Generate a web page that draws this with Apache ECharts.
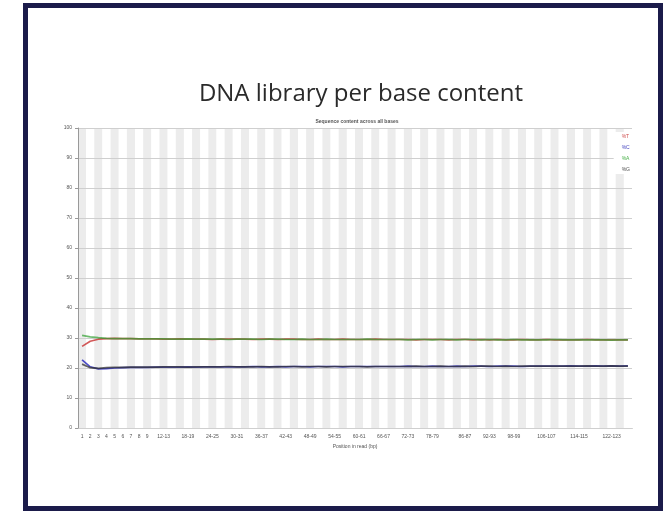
<!DOCTYPE html>
<html>
<head>
<meta charset="utf-8">
<script src="https://cdn.jsdelivr.net/npm/echarts@6/dist/echarts.min.js"></script>
<style>
html,body{margin:0;padding:0;background:#fff}
#view-chart{width:669px;height:512px}
</style>
</head>
<body>
<div id="view-chart"></div>
<script>
// position groups as FastQC prints them
var positions = ["1","2","3","4","5","6","7","8","9",
	"10-11","12-13","14-15","16-17","18-19","20-21","22-23","24-25","26-27","28-29",
	"30-31","32-33","34-35","36-37","38-39","40-41","42-43","44-45","46-47","48-49",
	"50-51","52-53","54-55","56-57","58-59","60-61","62-63","64-65","66-67","68-69",
	"70-71","72-73","74-75","76-77","78-79","80-81","82-83","84-85","86-87","88-89",
	"90-91","92-93","94-95","96-97","98-99","100-101","102-103","104-105","106-107","108-109",
	"110-111","112-113","114-115","116-117","118-119","120-121","122-123","124-125","126-127"];
var shownTicks = ["1","2","3","4","5","6","7","8","9","12-13","18-19","24-25","30-31","36-37",
	"42-43","48-49","54-55","60-61","66-67","72-73","78-79","86-87","92-93","98-99",
	"106-107","114-115","122-123"];
var yTicks = [0, 10, 20, 30, 40, 50, 60, 70, 80, 90, 100];

var pctT = [27.2,28.9,29.6,29.8,29.9,29.8,29.8,29.7,29.7,
	29.7,29.6,29.6,29.7,29.6,29.6,29.6,29.5,29.6,29.6,
	29.6,29.6,29.5,29.6,29.6,29.5,29.6,29.6,29.5,29.5,
	29.6,29.5,29.5,29.6,29.5,29.5,29.5,29.6,29.5,29.5,
	29.5,29.5,29.4,29.5,29.5,29.5,29.4,29.5,29.5,29.4,
	29.5,29.4,29.5,29.4,29.4,29.5,29.4,29.4,29.5,29.4,
	29.4,29.4,29.4,29.5,29.4,29.4,29.4,29.4,29.4];
var pctC = [22.7,20.4,19.7,19.8,20.0,20.1,20.2,20.2,20.2,
	20.3,20.3,20.3,20.3,20.4,20.3,20.4,20.4,20.4,20.4,
	20.4,20.4,20.5,20.4,20.4,20.5,20.4,20.5,20.5,20.4,
	20.5,20.5,20.5,20.4,20.5,20.5,20.5,20.5,20.5,20.5,
	20.5,20.6,20.5,20.5,20.6,20.5,20.5,20.6,20.5,20.6,
	20.6,20.5,20.6,20.6,20.6,20.5,20.6,20.6,20.6,20.6,
	20.6,20.7,20.6,20.6,20.7,20.6,20.7,20.6,20.7];
var pctA = [30.9,30.4,30.1,29.9,29.8,29.8,29.8,29.7,29.7,
	29.7,29.7,29.6,29.6,29.7,29.6,29.6,29.6,29.6,29.5,
	29.6,29.6,29.6,29.5,29.6,29.6,29.5,29.5,29.6,29.5,
	29.5,29.6,29.5,29.5,29.5,29.5,29.6,29.5,29.5,29.5,
	29.5,29.4,29.5,29.5,29.4,29.5,29.5,29.4,29.5,29.5,
	29.4,29.5,29.4,29.4,29.5,29.4,29.4,29.4,29.4,29.5,
	29.4,29.4,29.4,29.4,29.4,29.4,29.3,29.4,29.4];
var pctG = [21.3,20.1,19.9,20.1,20.2,20.2,20.3,20.3,20.3,
	20.3,20.4,20.4,20.4,20.3,20.4,20.4,20.4,20.4,20.5,
	20.4,20.4,20.4,20.5,20.4,20.4,20.5,20.5,20.4,20.5,
	20.5,20.4,20.5,20.5,20.5,20.5,20.4,20.5,20.5,20.5,
	20.5,20.5,20.6,20.5,20.5,20.6,20.5,20.5,20.6,20.5,
	20.6,20.6,20.5,20.6,20.5,20.6,20.6,20.6,20.6,20.6,
	20.6,20.6,20.6,20.7,20.6,20.6,20.7,20.6,20.6];

var myChart = echarts.init(document.getElementById("view-chart"));
var tiny = {fontFamily: "Liberation Sans", fontSize: 5, color: "#555"};

function line(name, data, color, op) {
	return {
		name: name, type: "line", data: data, symbol: "none", z: 3,
		lineStyle: {color: color, width: 1.7, opacity: op}, itemStyle: {color: color}
	};
}

var option = {
	animation: false,
	backgroundColor: "#fff",
	title: [{
		text: "DNA library per base content",
		left: 356, top: 77, textAlign: "center",
		textStyle: {fontFamily: "Open Sans", fontSize: 24, fontWeight: "normal", color: "#2a2a2a"}
	}, {
		text: "Sequence content across all bases",
		left: 352, top: 114, textAlign: "center",
		textStyle: tiny
	}],
	legend: {
		orient: "vertical", right: 36, top: 132, itemGap: 6,
		itemWidth: 0, itemHeight: 0, icon: "none",
		backgroundColor: "#fff", padding: [2, 3],
		data: [
			{name: "%T", textStyle: {color: "#d05050"}},
			{name: "%C", textStyle: {color: "#4848c0"}},
			{name: "%A", textStyle: {color: "#48b048"}},
			{name: "%G", textStyle: {color: "#505050"}}
		],
		textStyle: {fontFamily: "Liberation Sans", fontSize: 5}
	},
	grid: {left: 78, right: 37, top: 128, bottom: 84},
	xAxis: {
		type: "category", data: positions, boundaryGap: true, z: 0,
		name: "Position in read (bp)", nameLocation: "middle", nameGap: 14,
		nameTextStyle: tiny,
		axisLine: {lineStyle: {color: "#999"}},
		axisTick: {show: false},
		axisLabel: Object.assign({margin: 6, interval: function(i, v) { return shownTicks.indexOf(v) >= 0; }}, tiny),
		splitArea: {show: true, interval: 0, areaStyle: {color: ["#ececec", "#fff"]}}
	},
	yAxis: {
		type: "value", min: 0, max: 100, interval: 10, z: 1,
		axisLine: {show: true, lineStyle: {color: "#999"}},
		axisTick: {show: true, length: 3, lineStyle: {color: "#999"}},
		axisLabel: Object.assign({margin: 6, formatter: function(v) { return yTicks.indexOf(v) >= 0 ? String(v) : ""; }}, tiny),
		splitLine: {lineStyle: {color: "#cfcfcf", width: 1}}
	},
	series: [
		line("%T", pctT, "#c83030", 0.8),
		line("%C", pctC, "#3030c0", 0.85),
		line("%A", pctA, "#30a030", 0.7),
		line("%G", pctG, "#303030", 0.75)
	],
	graphic: [{
		type: "rect", silent: true,
		shape: {x: 25.5, y: 5.5, width: 635, height: 503},
		style: {fill: "none", stroke: "#1b1b4a", lineWidth: 5}
	}]
};
myChart.setOption(option);
</script>
</body>
</html>
